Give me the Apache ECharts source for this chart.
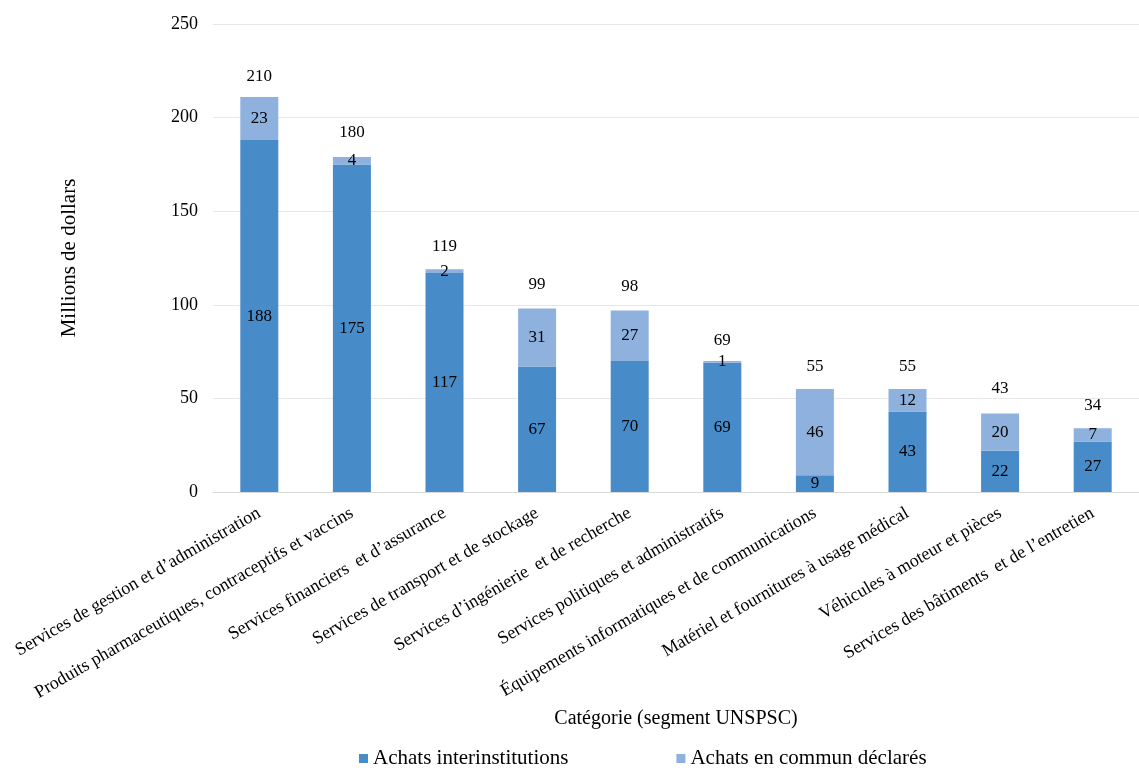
<!DOCTYPE html>
<html>
<head>
<meta charset="utf-8">
<script src="https://cdn.jsdelivr.net/npm/echarts@6/dist/echarts.min.js"></script>
<style>
  html, body { margin: 0; padding: 0; background: #fff; }
  #chart { width: 1139px; height: 768px; }
</style>
</head>
<body>
<div id="chart"></div>
<script>
const categories = [
    'Services de gestion et d\u2019administration',
    'Produits pharmaceutiques, contraceptifs et vaccins',
    'Services financiers  et d\u2019assurance',
    'Services de transport et de stockage',
    'Services d\u2019ingénierie  et de recherche',
    'Services politiques et administratifs',
    'Équipements informatiques et de communications',
    'Matériel et fournitures à usage médical',
    'Véhicules à moteur et pièces',
    'Services des bâtiments  et de l\u2019entretien'
];
const interinstitutions = [188, 175, 117, 67, 70, 69, 9, 43, 22, 27];
const enCommun = [23, 4, 2, 31, 27, 1, 46, 12, 20, 7];
const totals = [210, 180, 119, 99, 98, 69, 55, 55, 43, 34];

const font = 'Liberation Serif';

const chart = echarts.init(document.getElementById('chart'));
const option = {
    animation: false,
    textStyle: { fontFamily: font },
    grid: { left: 213, top: 24, width: 939, bottom: 276 },
    legend: {
        data: ['Achats interinstitutions', 'Achats en commun déclarés'],
        top: 743,
        left: 354,
        itemWidth: 9,
        itemHeight: 9,
        itemGap: 108,
        icon: 'rect',
        textStyle: { fontFamily: font, fontSize: 21, color: '#000' }
    },
    xAxis: {
        type: 'category',
        data: categories,
        name: 'Catégorie (segment UNSPSC)',
        nameLocation: 'middle',
        nameGap: 217,
        nameTextStyle: { fontFamily: font, fontSize: 20, color: '#000' },
        axisLine: { lineStyle: { color: '#d9d9d9' } },
        axisTick: { show: false },
        axisLabel: {
            interval: 0,
            rotate: 30,
            margin: 20,
            fontFamily: font,
            fontSize: 18,
            color: '#000'
        }
    },
    yAxis: {
        type: 'value',
        min: 0,
        max: 250,
        interval: 50,
        name: 'Millions de dollars',
        nameLocation: 'middle',
        nameGap: 133,
        nameRotate: 90,
        nameTextStyle: { fontFamily: font, fontSize: 21, color: '#000' },
        axisLine: { show: false },
        axisTick: { show: false },
        axisLabel: { margin: 15, fontFamily: font, fontSize: 18, color: '#000' },
        splitLine: { lineStyle: { color: '#e6e6e6' } }
    },
    series: [
        {
            name: 'Achats interinstitutions',
            type: 'bar',
            stack: 'total',
            barWidth: 38,
            data: interinstitutions,
            itemStyle: { color: '#488bc9' },
            label: { show: true, position: 'inside', fontFamily: font, fontSize: 17, color: '#000' }
        },
        {
            name: 'Achats en commun déclarés',
            type: 'bar',
            stack: 'total',
            barWidth: 38,
            data: enCommun,
            itemStyle: { color: '#8fb1de' },
            label: { show: true, position: 'inside', fontFamily: font, fontSize: 17, color: '#000' }
        },
        {
            name: 'Total',
            type: 'bar',
            barWidth: 38,
            barGap: '-100%',
            data: totals,
            itemStyle: { color: 'rgba(0,0,0,0)' },
            z: 0,
            silent: true,
            label: { show: true, position: 'top', distance: 14, fontFamily: font, fontSize: 17, color: '#000' }
        }
    ]
};
chart.setOption(option);
</script>
</body>
</html>
